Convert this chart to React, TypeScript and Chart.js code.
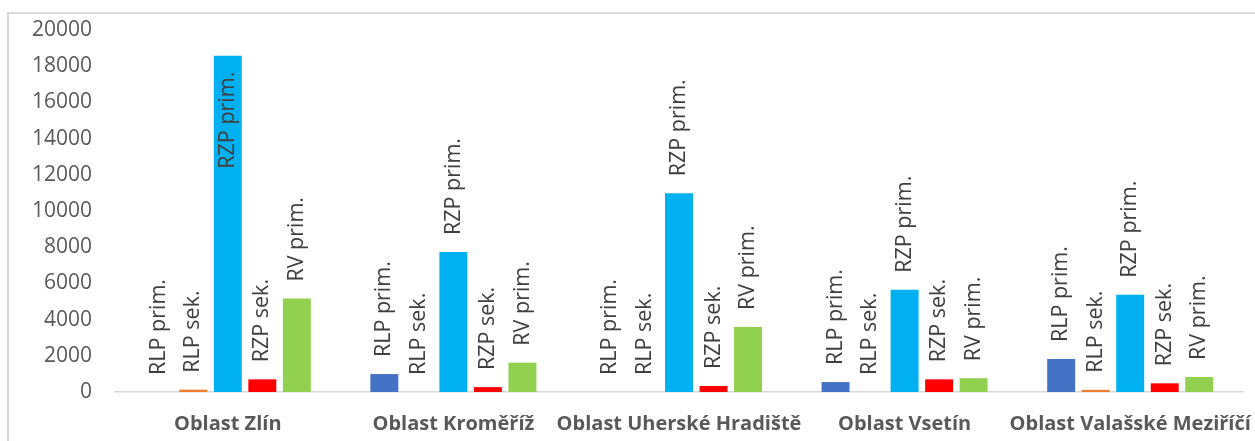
import React, { useEffect, useRef } from "react";
import { Chart, registerables } from "chart.js";

Chart.register(...registerables);

const categories = [
  "Oblast Zlín",
  "Oblast Kroměříž",
  "Oblast Uherské Hradiště",
  "Oblast Vsetín",
  "Oblast Valašské Meziříčí",
];
const seriesNames = ["RLP prim.", "RLP sek.", "RZP prim.", "RZP sek.", "RV prim."];
const rlpPrim = [0, 990, 0, 550, 1820];
const rlpSek = [130, 0, 0, 0, 120];
const rzpPrim = [18580, 7735, 10980, 5650, 5375];
const rzpSek = [700, 270, 330, 700, 480];
const rvPrim = [5160, 1620, 3590, 760, 830];
const seriesColors = ["#4472C4", "#ED7D31", "#00B0F0", "#FF0000", "#92D050"];
const yTicks = [0, 2000, 4000, 6000, 8000, 10000, 12000, 14000, 16000, 18000, 20000];

const labelPlugin = {
  id: "barNameLabels",
  afterDatasetsDraw(chart: any) {
    const ctx = chart.ctx;
    const area = chart.chartArea;
    ctx.save();
    ctx.font = "21.5px 'Open Sans'";
    ctx.fillStyle = "#404040";
    ctx.textBaseline = "middle";
    chart.data.datasets.forEach((ds: any, di: number) => {
      const meta = chart.getDatasetMeta(di);
      meta.data.forEach((el: any) => {
        const text = ds.label;
        const w = ctx.measureText(text).width;
        const top = el.y;
        ctx.save();
        let anchorY = top - 17;
        let align: CanvasTextAlign = "left";
        if (anchorY - w < area.top - 25) {
          anchorY = top + 16;
          align = "right";
        }
        ctx.translate(el.x, anchorY);
        ctx.rotate(-Math.PI / 2);
        ctx.textAlign = align;
        ctx.fillText(text, 0, 0);
        ctx.restore();
      });
    });
    ctx.restore();
  },
};

export default function App() {
  const ref = useRef<HTMLCanvasElement>(null);
  useEffect(() => {
    if (!ref.current) return;
    const values = [rlpPrim, rlpSek, rzpPrim, rzpSek, rvPrim];
    const chart = new Chart(ref.current, {
      type: "bar",
      data: {
        labels: categories,
        datasets: seriesNames.map((name, i) => ({
          label: name,
          data: values[i],
          backgroundColor: seriesColors[i],
          borderWidth: 0,
          categoryPercentage: 0.765,
          barPercentage: 0.81,
        })),
      },
      options: {
        responsive: false,
        animation: false,
        devicePixelRatio: 1,
        layout: { padding: { top: 30, right: 12, left: 0, bottom: 0 } },
        plugins: {
          legend: { display: false },
          tooltip: { enabled: false },
        },
        scales: {
          x: {
            grid: { display: false, drawTicks: false },
            border: { display: true, color: "#D9D9D9", width: 1.5 },
            ticks: {
              color: "#595959",
              font: { family: "'Open Sans'", size: 20, weight: "bold" },
              padding: 20,
              maxRotation: 0,
              autoSkip: false,
            },
            afterFit: (s: any) => {
              s.height = 49;
              s.paddingLeft = 0;
              s.paddingRight = 0;
            },
          },
          y: {
            min: 0,
            max: 20000,
            grid: { display: false, drawTicks: false },
            border: { display: false },
            afterBuildTicks: (s: any) => {
              s.ticks = yTicks.map((v) => ({ value: v }));
            },
            ticks: {
              color: "#595959",
              font: { family: "'Open Sans'", size: 21 },
              padding: 23,
              callback: (v: any) => String(v),
            },
            afterFit: (s: any) => {
              s.width = 115;
              s.paddingTop = 0;
              s.paddingBottom = 0;
            },
          },
        },
      },
      plugins: [labelPlugin],
    });
    return () => chart.destroy();
  }, []);
  return (
    <div
      style={{
        position: "fixed",
        left: 0,
        top: 0,
        width: 1255,
        height: 441,
        overflow: "hidden",
        background: "#fff",
      }}
    >
      <div
        style={{
          position: "absolute",
          left: 7,
          top: 12,
          width: 1270,
          height: 460,
          border: "2px solid #D9D9D9",
        }}
      />
      <canvas ref={ref} width={1255} height={441} style={{ position: "absolute", left: 0, top: 0 }} />
    </div>
  );
}
